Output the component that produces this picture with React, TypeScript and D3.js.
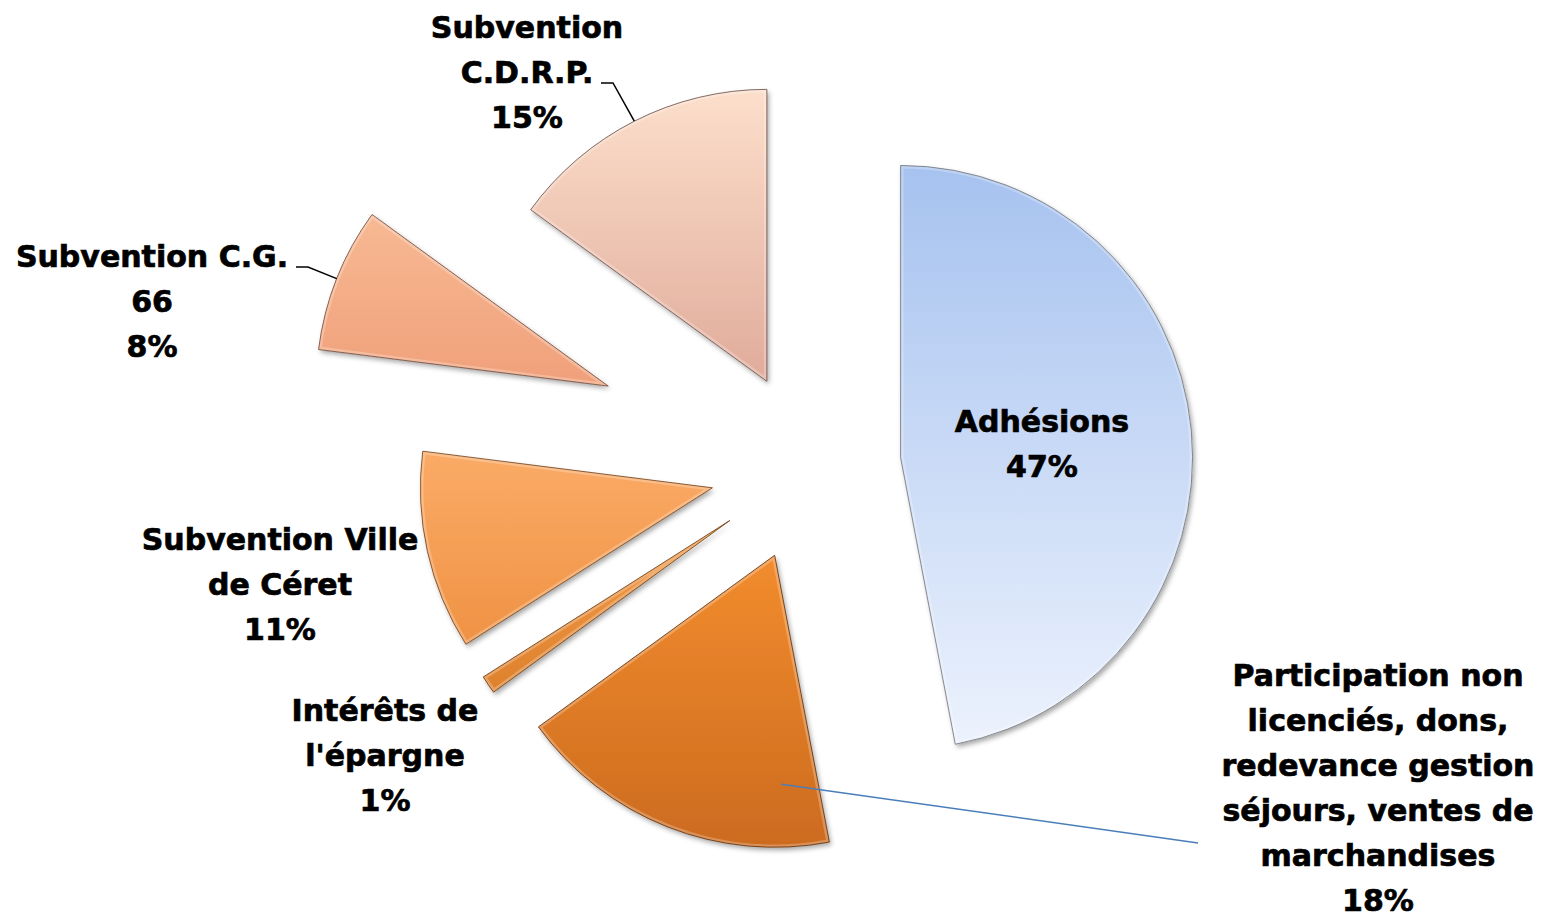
import React from "react";
import * as d3 from "d3";

// ---- data ----
const categories = [
  "Adhésions",
  "Participation non licenciés, dons, redevance gestion séjours, ventes de marchandises",
  "Intérêts de l'épargne",
  "Subvention Ville de Céret",
  "Subvention C.G. 66",
  "Subvention C.D.R.P.",
];
const values = [47, 18, 1, 11, 8, 15];
const labelLines = [
  ["Adhésions"],
  ["Participation non", "licenciés, dons,", "redevance gestion", "séjours, ventes de", "marchandises"],
  ["Intérêts de", "l'épargne"],
  ["Subvention Ville", "de Céret"],
  ["Subvention C.G.", "66"],
  ["Subvention", "C.D.R.P."],
];

// ---- layout / style ----
const W = 1544;
const H = 917;
const CX = 810;
const CY = 466;
const R = 292;
const explode = [91, 96, 97, 100, 217, 95];
const gradTop = ["#a6c2ef", "#f28c2e", "#f39b4b", "#fbab67", "#f7b993", "#fcdfcb"];
const gradBot = ["#ecf2fd", "#cc6b1f", "#de812c", "#ef9244", "#f0a07a", "#e0ab9b"];
const labelPos = [
  { x: 1042, y: 432 },
  { x: 1378, y: 686 },
  { x: 385, y: 721 },
  { x: 280, y: 550 },
  { x: 152, y: 267 },
  { x: 527, y: 38 },
];
const LINE_H = 45;
const FONT = "'DejaVu Sans', Verdana, sans-serif";

export default function App() {
  const total = d3.sum(values);
  const pie = d3
    .pie<number>()
    .sort(null)
    .value((d) => d)
    .startAngle(0)
    .endAngle(2 * Math.PI);
  const arcs = pie(values);
  const arcGen = d3.arc<d3.PieArcDatum<number>>().innerRadius(0).outerRadius(R);
  const pct = d3.format(".0%");

  const slices = arcs.map((a, i) => {
    const mid = (a.startAngle + a.endAngle) / 2;
    const dx = explode[i] * Math.sin(mid);
    const dy = -explode[i] * Math.cos(mid);
    return { a, i, mid, ox: CX + dx, oy: CY + dy, d: arcGen(a) as string };
  });

  const polar = (s: any, ang: number, r: number) => [
    s.ox + r * Math.sin(ang),
    s.oy - r * Math.cos(ang),
  ];

  // leader lines
  const cdrp = slices[5];
  const cdrpEnd = polar(cdrp, cdrp.mid, R);
  const cg = slices[4];
  const cgEnd = polar(cg, cg.mid, R);
  const part = slices[1];
  const partStart = polar(part, part.a.startAngle + 0.16, 229);

  return (
    <svg
      width={W}
      height={H}
      style={{ position: "absolute", left: 0, top: 0, display: "block", background: "#fff" }}
    >
      <defs>
        <filter id="shadow" x="-20%" y="-20%" width="140%" height="140%">
          <feDropShadow dx="2" dy="3" stdDeviation="2.5" floodColor="#000" floodOpacity="0.35" />
        </filter>
        {slices.map((s) => (
          <linearGradient key={"g" + s.i} id={"grad" + s.i} x1="0" y1="0" x2="0" y2="1">
            <stop offset="0%" stopColor={gradTop[s.i]} />
            <stop offset="100%" stopColor={gradBot[s.i]} />
          </linearGradient>
        ))}
        {slices.map((s) => (
          <clipPath key={"c" + s.i} id={"clip" + s.i}>
            <path d={s.d} transform={`translate(${s.ox},${s.oy})`} />
          </clipPath>
        ))}
      </defs>

      {slices.map((s) => (
        <g key={categories[s.i]}>
          <path
            d={s.d}
            transform={`translate(${s.ox},${s.oy})`}
            fill={`url(#grad${s.i})`}
            filter="url(#shadow)"
          />
          <g clipPath={`url(#clip${s.i})`}>
            <path
              d={s.d}
              transform={`translate(${s.ox},${s.oy})`}
              fill="none"
              stroke="#ffffff"
              strokeOpacity={0.25}
              strokeWidth={6}
              strokeLinejoin="round"
            />
          </g>
          <path
            d={s.d}
            transform={`translate(${s.ox},${s.oy})`}
            fill="none"
            stroke={d3.color(gradBot[s.i])!.darker(2).formatHex()}
            strokeOpacity={0.85}
            strokeWidth={1}
            strokeLinejoin="round"
          />
        </g>
      ))}

      {/* leader lines */}
      <polyline
        points={`601,83 613,83 ${cdrpEnd[0]},${cdrpEnd[1]}`}
        fill="none"
        stroke="#000"
        strokeWidth={1.5}
      />
      <polyline
        points={`296,267 308,267 ${cgEnd[0]},${cgEnd[1]}`}
        fill="none"
        stroke="#000"
        strokeWidth={1.5}
      />
      <line
        x1={partStart[0]}
        y1={partStart[1]}
        x2={1198}
        y2={843}
        stroke="#4a7ebb"
        strokeWidth={1.5}
      />

      {/* labels */}
      {slices.map((s) => {
        const lines = [...labelLines[s.i], pct(values[s.i] / total)];
        const p = labelPos[s.i];
        return (
          <text
            key={"t" + s.i}
            x={p.x}
            y={p.y}
            textAnchor="middle"
            fontFamily={FONT}
            fontWeight="bold"
            fontSize={30}
            fill="#000"
            stroke="#000"
            strokeWidth={0.7}
          >
            {lines.map((ln, k) => (
              <tspan key={k} x={p.x} y={p.y + k * LINE_H}>
                {ln}
              </tspan>
            ))}
          </text>
        );
      })}
    </svg>
  );
}
